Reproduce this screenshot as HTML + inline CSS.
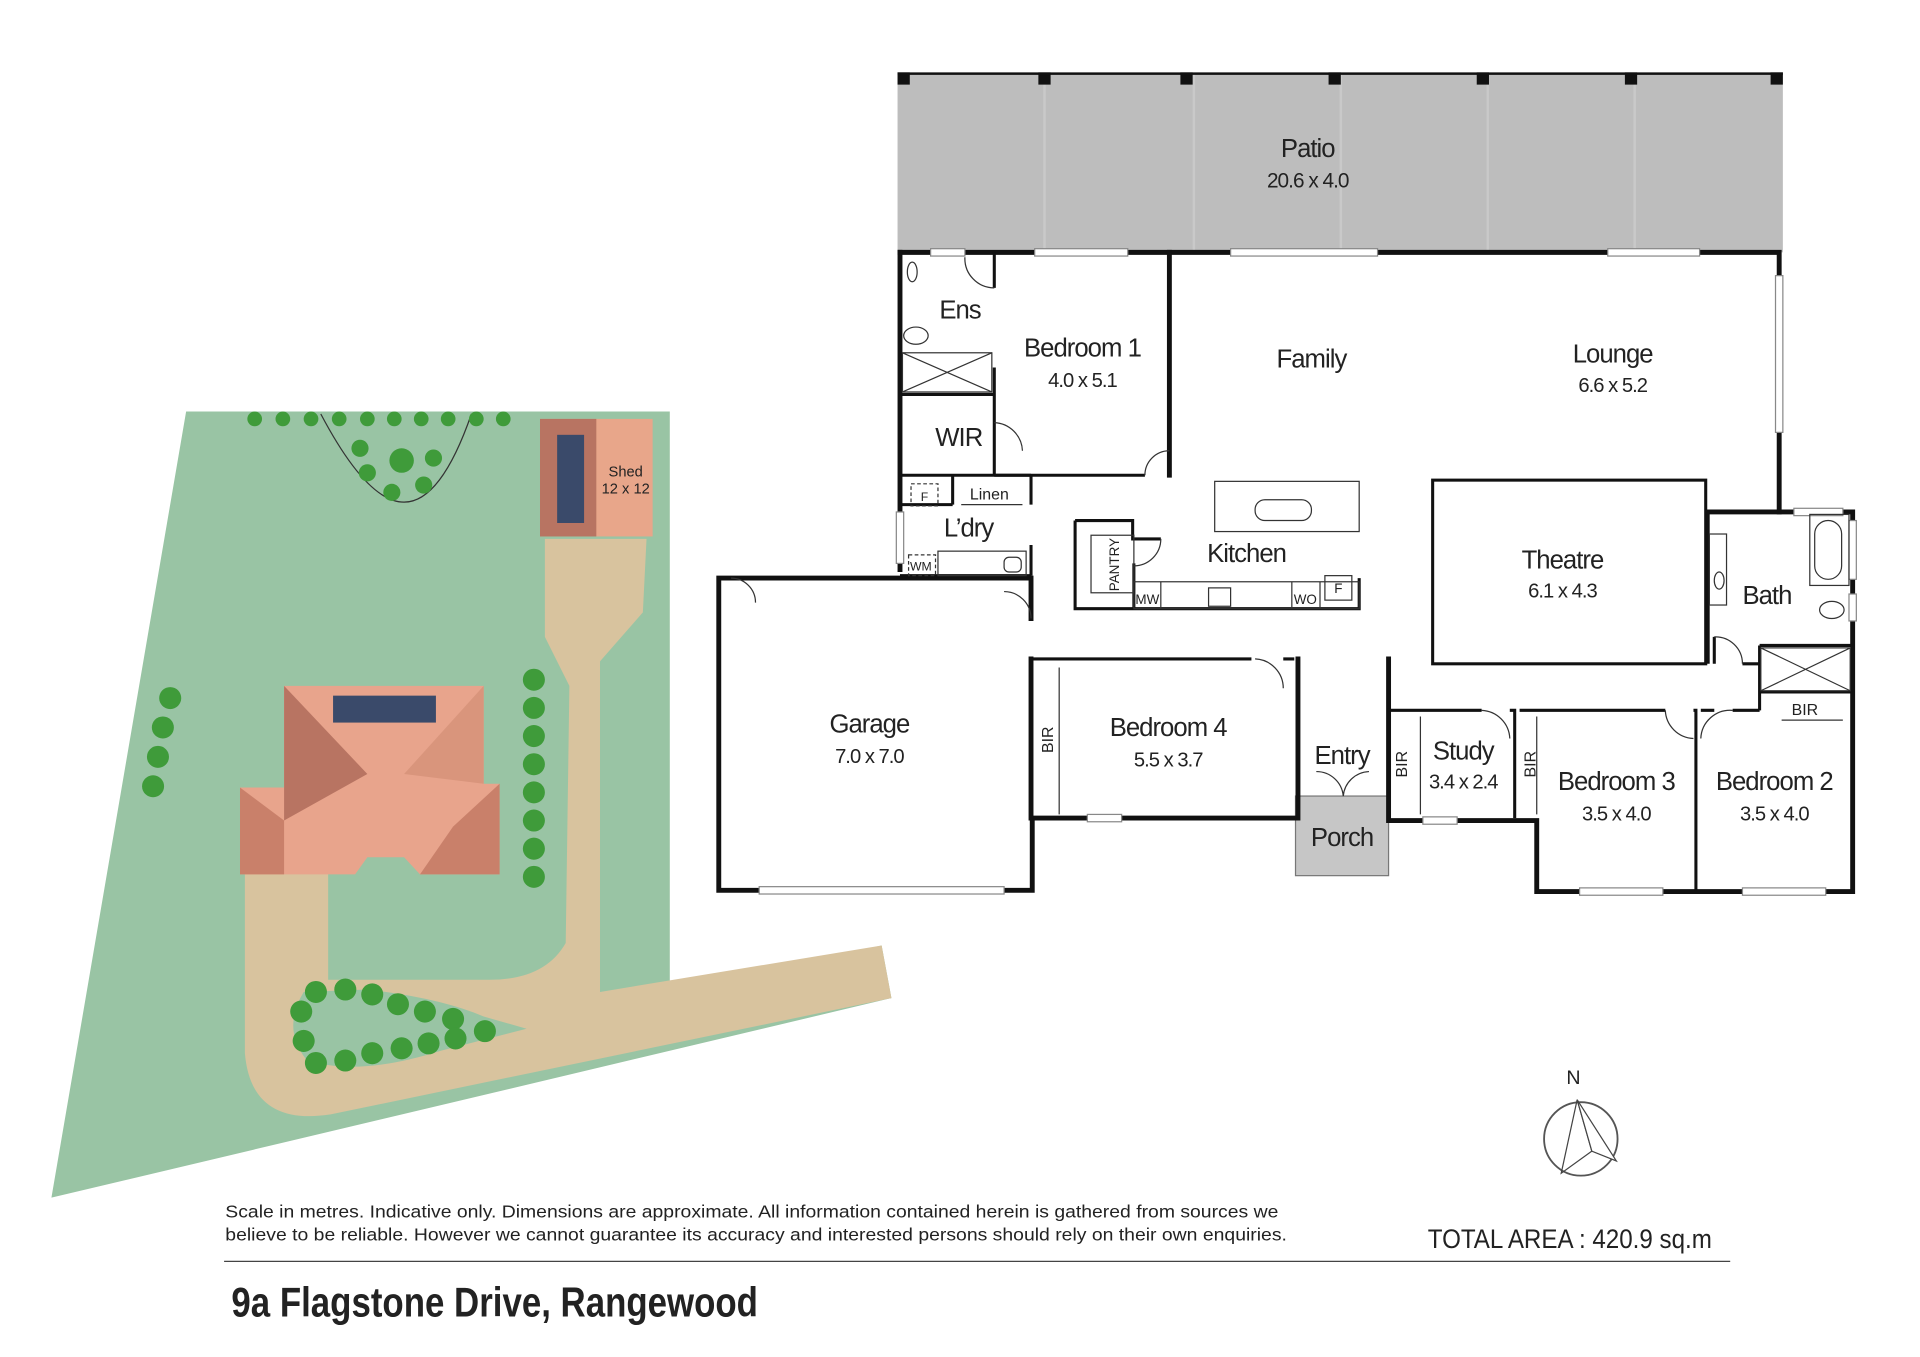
<!DOCTYPE html>
<html><head><meta charset="utf-8"><style>
html,body{margin:0;padding:0;background:#fff}
svg{display:block}
text{font-family:"Liberation Sans Narrow","Liberation Sans",sans-serif;fill:#222}
.r{letter-spacing:-0.8px}
</style></head><body>
<svg width="1920" height="1357" viewBox="0 0 1568 1108" xmlns="http://www.w3.org/2000/svg">
<!-- SITE PLAN -->
<polygon points="152,336 547,336 547,810 720,772 728,815 42,978" fill="#99c4a4"/>
<path d="M200,700 L200,860 Q205,920 270,910 L728,815 L720,772 L490,810 L490,540 L525,500 L528,440 L445,440 L445,520 L465,560 L462,770 Q445,800 400,800 L268,800 L268,700 Z" fill="#d8c39e"/>
<path d="M248,810 Q230,840 250,865 Q290,880 360,858 L430,840 L395,830 Q360,815 300,808 Z" fill="#99c4a4"/>
<rect x="441" y="342" width="92" height="96" fill="#e8a68a"/>
<rect x="441" y="342" width="46" height="96" fill="#b87462"/>
<rect x="455" y="355" width="22" height="72" fill="#3a4a6a"/>
<text x="511" y="389" font-size="12" text-anchor="middle">Shed</text>
<text x="511" y="403" font-size="12" text-anchor="middle">12 x 12</text>
<path d="M262,338 Q300,410 330,410 Q360,410 385,338" fill="none" stroke="#333" stroke-width="1"/>
<polygon points="232,560 395,560 395,640 408,640 408,714 343,714 330,700 300,700 290,714 196,714 196,643 232,643" fill="#e8a48c"/>
<polygon points="232,560 300,632 232,670" fill="#b87462"/>
<polygon points="395,560 330,632 395,640" fill="#d9957c"/>
<polygon points="196,643 232,670 232,714 196,714" fill="#c9806a"/>
<polygon points="408,640 370,675 343,714 408,714" fill="#c9806a"/>
<rect x="272" y="568" width="84" height="22" fill="#3a4a6a"/>
<g fill="#3f9b3a">
<circle cx="208" cy="342" r="6"/><circle cx="231" cy="342" r="6"/><circle cx="254" cy="342" r="6"/><circle cx="277" cy="342" r="6"/><circle cx="300" cy="342" r="6"/><circle cx="322" cy="342" r="6"/><circle cx="344" cy="342" r="6"/><circle cx="366" cy="342" r="6"/><circle cx="389" cy="342" r="6"/><circle cx="411" cy="342" r="6"/>
<circle cx="294" cy="366" r="7"/><circle cx="328" cy="376" r="10"/><circle cx="354" cy="374" r="7"/><circle cx="300" cy="386" r="7"/><circle cx="346" cy="396" r="7"/><circle cx="320" cy="402" r="7"/>
<circle cx="139" cy="570" r="9"/><circle cx="133" cy="594" r="9"/><circle cx="129" cy="618" r="9"/><circle cx="125" cy="642" r="9"/>
<circle cx="436" cy="555" r="9"/><circle cx="436" cy="578" r="9"/><circle cx="436" cy="601" r="9"/><circle cx="436" cy="624" r="9"/><circle cx="436" cy="647" r="9"/><circle cx="436" cy="670" r="9"/><circle cx="436" cy="693" r="9"/><circle cx="436" cy="716" r="9"/>
<circle cx="258" cy="810" r="9"/><circle cx="282" cy="808" r="9"/><circle cx="304" cy="812" r="9"/><circle cx="325" cy="820" r="9"/><circle cx="347" cy="826" r="9"/><circle cx="370" cy="832" r="9"/><circle cx="396" cy="842" r="9"/>
<circle cx="246" cy="826" r="9"/><circle cx="248" cy="850" r="9"/><circle cx="258" cy="868" r="9"/><circle cx="282" cy="866" r="9"/><circle cx="304" cy="860" r="9"/><circle cx="328" cy="856" r="9"/><circle cx="350" cy="852" r="9"/><circle cx="372" cy="848" r="9"/>
</g>
<!-- PATIO -->
<rect x="733" y="60" width="723" height="146" fill="#bdbdbd"/>
<g stroke="#c9c9c9" stroke-width="2"><line x1="853" y1="60" x2="853" y2="206"/><line x1="975" y1="60" x2="975" y2="206"/><line x1="1095" y1="60" x2="1095" y2="206"/><line x1="1215" y1="60" x2="1215" y2="206"/><line x1="1335" y1="60" x2="1335" y2="206"/></g>
<line x1="733" y1="60" x2="1456" y2="60" stroke="#111" stroke-width="2"/>
<g fill="#111"><rect x="733" y="59" width="10" height="10"/><rect x="848" y="59" width="10" height="10"/><rect x="964" y="59" width="10" height="10"/><rect x="1085" y="59" width="10" height="10"/><rect x="1206" y="59" width="10" height="10"/><rect x="1327" y="59" width="10" height="10"/><rect x="1446" y="59" width="10" height="10"/></g>
<text class="r" x="1068" y="128" font-size="21" text-anchor="middle">Patio</text>
<text class="r" x="1068" y="153" font-size="17" text-anchor="middle">20.6 x 4.0</text>
<rect x="1058" y="650" width="76" height="65" fill="#c6c6c6" stroke="#777"/>
<!-- WALLS -->
<g stroke="#111" stroke-width="4" fill="none" stroke-linecap="square">
<path d="M735,206 L1453,206 L1453,418"/>
<path d="M735,206 L735,465"/>
<path d="M1395,418 L1513,418 L1513,728 L1255,728 L1255,670 L1134,670 L1134,538"/>
<path d="M1060,538 L1060,668 L843,668 L843,727 L587,727 L587,472 L842,472 L842,505"/>
<path d="M842,538 L842,668"/>
<path d="M955,206 L955,388"/>
</g>
<g stroke="#111" stroke-width="2.5" fill="none">
<rect x="1170" y="392" width="223" height="150"/>
<path d="M1395,418 L1395,542"/>
<path d="M843,538 L1022,538 M1048,538 L1057,538"/>
<path d="M812,206 L812,235 M812,300 L812,388"/>
<path d="M735,322 L812,322 M735,388 L842,388"/>
<path d="M812,388 L935,388"/>
<path d="M735,412 L778,412 M778,388 L778,412 M842,388 L842,412"/>
<path d="M735,470 L842,470 M842,445 L842,470"/>
<path d="M1133,580 L1210,580 M1233,580 L1237,580 L1237,668 M1241,580 L1360,580 M1383,580 L1385,580 L1385,727 M1389,580 L1400,580 M1415,580 L1437,580"/>
<path d="M1437,527 L1513,527 M1437,527 L1437,580 M1437,565 L1513,565"/>
<path d="M1400,520 L1400,542 M1423,542 L1437,542"/>
<path d="M878,425 L925,425 L925,440 L948,440 M878,425 L878,497 L1110,497 L1110,472 M926,460 L926,497"/>
</g>
<g fill="#fff" stroke="#888" stroke-width="1">
<rect x="760" y="203" width="28" height="6"/><rect x="845" y="203" width="76" height="6"/><rect x="1005" y="203" width="120" height="6"/><rect x="1313" y="203" width="75" height="6"/>
<rect x="1450" y="225" width="6" height="128"/><rect x="1510" y="425" width="6" height="48"/><rect x="1510" y="485" width="6" height="22"/>
<rect x="1465" y="415" width="40" height="6"/>
<rect x="620" y="724" width="200" height="6"/><rect x="888" y="665" width="28" height="6"/><rect x="1162" y="667" width="28" height="6"/>
<rect x="1290" y="725" width="68" height="6"/><rect x="1423" y="725" width="68" height="6"/><rect x="732" y="418" width="6" height="42"/>
</g>
<g stroke="#333" stroke-width="1" fill="none">
<rect x="992" y="393" width="118" height="41"/><rect x="1025" y="408" width="46" height="17" rx="8"/>
<rect x="891" y="437" width="35" height="47"/>
<rect x="926" y="475" width="184" height="22"/><line x1="948" y1="475" x2="948" y2="497"/><line x1="1055" y1="475" x2="1055" y2="497"/><line x1="1078" y1="475" x2="1078" y2="497"/>
<rect x="1082" y="470" width="22" height="20"/><rect x="987" y="480" width="18" height="15"/>
<rect x="737" y="288" width="73" height="32"/><path d="M737,288 L810,320 M810,288 L737,320"/>
<rect x="1438" y="529" width="73" height="35"/><path d="M1438,529 L1511,564 M1511,529 L1438,564"/>
<rect x="1478" y="420" width="32" height="58"/><rect x="1482" y="425" width="22" height="48" rx="11"/>
<rect x="1396" y="436" width="14" height="58"/><ellipse cx="1404" cy="474" rx="4" ry="7"/>
<ellipse cx="1496" cy="498" rx="10" ry="7"/><ellipse cx="748" cy="274" rx="10" ry="7"/><ellipse cx="745" cy="222" rx="4" ry="8"/>
<rect x="766" y="450" width="72" height="20"/><rect x="820" y="455" width="14" height="12" rx="4"/>
<path stroke-dasharray="3,2" d="M744,395 h22 v18 h-22 z M742,453 h22 v17 h-22 z"/>
<path d="M1025,538 A24,24 0 0 1 1048,562 M812,235 A24,24 0 0 1 788,210 M812,345 A24,24 0 0 1 835,368 M935,388 A20,20 0 0 1 955,368 M948,440 A22,22 0 0 1 926,462 M842,505 A22,22 0 0 0 820,483 M1210,580 A24,24 0 0 1 1233,603 M1360,580 A24,24 0 0 0 1383,603 M1415,580 A24,24 0 0 0 1389,603 M1400,520 A22,22 0 0 1 1423,542 M1075,630 A22,22 0 0 1 1097,650 M1118,630 A22,22 0 0 0 1097,650 M597,472 A20,20 0 0 1 617,492"/>
<path d="M865,545 v120 M1160,585 v80 M1255,585 v80 M785,412 h50 M1455,588 h50"/>
</g>
<!-- LABELS -->
<g font-size="21" text-anchor="middle" class="r">
<text x="784" y="260">Ens</text>
<text x="884" y="291">Bedroom 1</text>
<text x="1071" y="300">Family</text>
<text x="1317" y="296">Lounge</text>
<text x="783" y="364">WIR</text>
<text x="791" y="438">L’dry</text>
<text x="1018" y="459">Kitchen</text>
<text x="1276" y="464">Theatre</text>
<text x="1443" y="493">Bath</text>
<text x="710" y="598">Garage</text>
<text x="954" y="601">Bedroom 4</text>
<text x="1096" y="624">Entry</text>
<text x="1195" y="620">Study</text>
<text x="1320" y="645">Bedroom 3</text>
<text x="1449" y="645">Bedroom 2</text>
<text x="1096" y="691">Porch</text>
</g>
<g font-size="16.5" text-anchor="middle" class="r">
<text x="884" y="316">4.0 x 5.1</text>
<text x="1317" y="320">6.6 x 5.2</text>
<text x="1276" y="488">6.1 x 4.3</text>
<text x="710" y="623">7.0 x 7.0</text>
<text x="954" y="626">5.5 x 3.7</text>
<text x="1195" y="644">3.4 x 2.4</text>
<text x="1320" y="670">3.5 x 4.0</text>
<text x="1449" y="670">3.5 x 4.0</text>
</g>
<g font-size="13" text-anchor="middle">
<text x="808" y="408">Linen</text><text x="1474" y="584">BIR</text>
<text x="755" y="409" font-size="10">F</text><text x="752" y="466" font-size="10">WM</text>
<text x="937" y="493" font-size="11">MW</text><text x="1066" y="493" font-size="11">WO</text><text x="1093" y="484" font-size="11">F</text>
<text transform="translate(860,604) rotate(-90)">BIR</text>
<text transform="translate(1149,624) rotate(-90)">BIR</text>
<text transform="translate(1254,624) rotate(-90)">BIR</text>
<text transform="translate(914,461) rotate(-90)" font-size="11">PANTRY</text>
</g>
<text x="1285" y="885" font-size="16" text-anchor="middle">N</text>
<circle cx="1291" cy="930" r="30" fill="none" stroke="#555" stroke-width="1.5"/>
<polygon points="1288,898 1275,958 1300,940" fill="none" stroke="#444"/>
<polygon points="1288,898 1300,940 1320,948" fill="#fff" stroke="#444"/>
<text x="184" y="994" font-size="14.5" textLength="860" lengthAdjust="spacingAndGlyphs">Scale in metres. Indicative only. Dimensions are approximate. All information contained herein is gathered from sources we</text>
<text x="184" y="1013" font-size="14.5" textLength="867" lengthAdjust="spacingAndGlyphs">believe to be reliable. However we cannot guarantee its accuracy and interested persons should rely on their own enquiries.</text>
<text x="1166" y="1019" font-size="22" textLength="232" lengthAdjust="spacingAndGlyphs">TOTAL AREA : 420.9 sq.m</text>
<line x1="183" y1="1030" x2="1413" y2="1030" stroke="#444" stroke-width="1"/>
<text x="189" y="1075" font-size="34" font-weight="bold" textLength="430" lengthAdjust="spacingAndGlyphs">9a Flagstone Drive, Rangewood</text>
</svg>
</body></html>
